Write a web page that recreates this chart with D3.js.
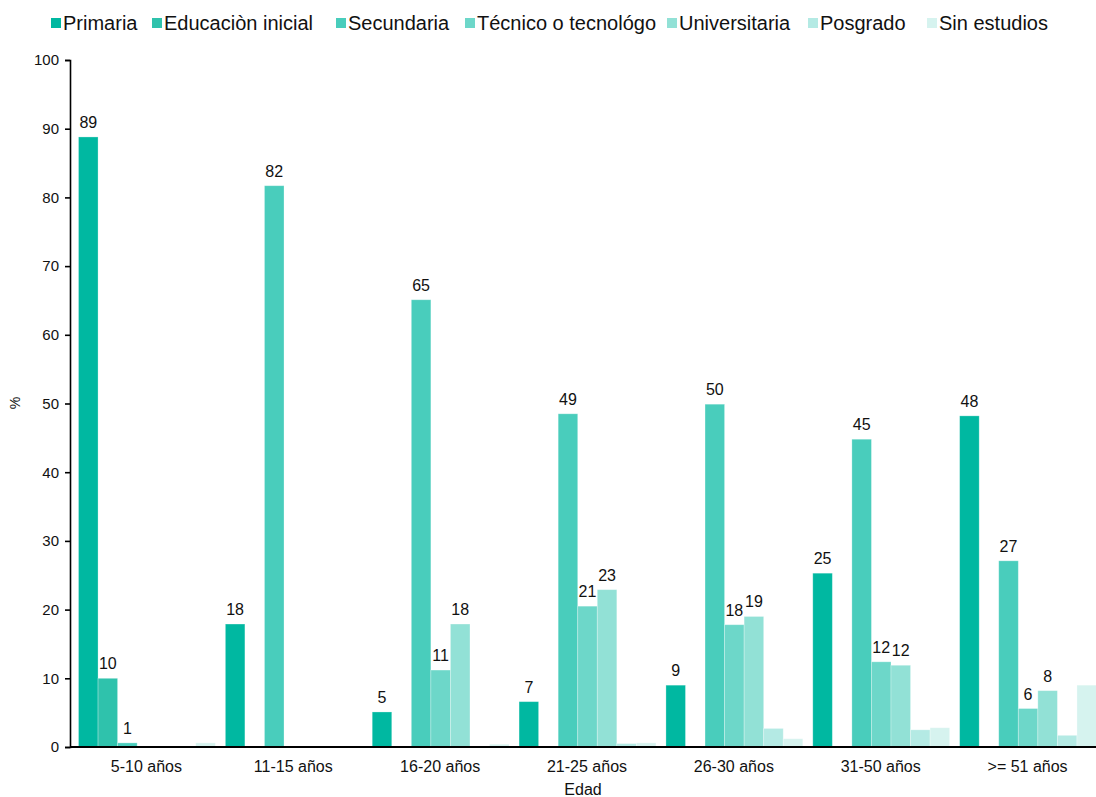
<!DOCTYPE html>
<html lang="es">
<head>
<meta charset="utf-8">
<script src="https://cdn.jsdelivr.net/npm/d3@7"></script>
<style>
  html, body { margin: 0; padding: 0; background: #fff; }
  svg { display: block; font-family: "Liberation Sans", Arial, sans-serif; }
</style>
</head>
<body>
<svg id="chart" width="1096" height="797"></svg>
<script>
// Age groups on the x axis
const categories = ["5-10 años", "11-15 años", "16-20 años", "21-25 años", "26-30 años", "31-50 años", ">= 51 años"];

// Education levels (one bar each per age group)
const seriesNames = ["Primaria", "Educaciòn inicial", "Secundaria", "Técnico o tecnológo", "Universitaria", "Posgrado", "Sin estudios"];

// Percentages per level, one value per age group
const primaria      = [88.8, 17.9, 5.1, 6.6, 9.0, 25.3, 48.2];
const educInicial   = [10.0, 0, 0, 0, 0, 0, 0];
const secundaria    = [0.6, 81.7, 65.1, 48.5, 49.9, 44.8, 27.1];
const tecnico       = [0, 0, 11.2, 20.5, 17.8, 12.4, 5.6];
const universitaria = [0, 0, 17.9, 22.9, 19.0, 11.9, 8.2];
const posgrado      = [0, 0, 0, 0.5, 2.7, 2.5, 1.7];
const sinEstudios   = [0.6, 0, 0.4, 0.6, 1.2, 2.8, 9.0];

const yTicks = [0, 10, 20, 30, 40, 50, 60, 70, 80, 90, 100];

const seriesValues = [primaria, educInicial, secundaria, tecnico, universitaria, posgrado, sinEstudios];
const colors = ["#00b8a1", "#2fc2ac", "#49cdbc", "#6dd7c9", "#92e1d6", "#b4eae4", "#d6f3ef"];
// Value labels are shown for the first five levels only
const labelled = [true, true, true, true, true, false, false];

const svg = d3.select("#chart");
const margin = { left: 70, top: 60 };
const plotBottom = 747;

const x0 = d3.scaleBand().domain(categories).range([73, 1101]).padding(0);
const x1 = d3.scaleBand().domain(seriesNames).range([5.5, x0.bandwidth() - 4.5]).padding(0);
const y = d3.scaleLinear().domain([0, 100]).range([plotBottom, margin.top]);

// Bars
const rows = [];
categories.forEach((c, ci) => {
  seriesNames.forEach((s, si) => {
    rows.push({ cat: c, series: s, si, value: seriesValues[si][ci] });
  });
});

svg.append("g").selectAll("rect")
  .data(rows.filter(d => d.value > 0))
  .join("rect")
  .attr("x", d => x0(d.cat) + x1(d.series))
  .attr("y", d => y(d.value))
  .attr("width", x1.bandwidth())
  .attr("height", d => y(0) - y(d.value))
  .attr("fill", d => colors[d.si])
  .attr("stroke", "#ffffff")
  .attr("stroke-opacity", 0.35)
  .attr("stroke-width", 0.8);

// Value labels
svg.append("g").selectAll("text")
  .data(rows.filter(d => labelled[d.si] && d.value >= 0.5))
  .join("text")
  .attr("x", d => x0(d.cat) + x1(d.series) + x1.bandwidth() / 2)
  .attr("y", d => y(d.value) - 9)
  .attr("text-anchor", "middle")
  .attr("font-size", 16)
  .attr("fill", "#111")
  .text(d => d3.format(".0f")(d.value));

// Y axis
const yAxis = svg.append("g")
  .attr("transform", `translate(${margin.left},0)`)
  .call(d3.axisLeft(y).tickValues(yTicks).tickSize(5).tickPadding(6).tickFormat(d3.format("d")));
yAxis.select(".domain").attr("stroke", "#000").attr("stroke-width", 1.6);
yAxis.selectAll(".tick line").attr("stroke", "#000").attr("stroke-width", 1.6);
yAxis.selectAll(".tick text")
  .attr("font-size", 15)
  .attr("font-family", "'Liberation Sans', Arial, sans-serif")
  .attr("fill", "#111");

// X axis
const xAxis = svg.append("g")
  .attr("transform", `translate(0,${plotBottom})`)
  .call(d3.axisBottom(x0).tickSize(0).tickPadding(14));
xAxis.select(".domain").attr("d", `M${margin.left},0H1096`).attr("stroke", "#000").attr("stroke-width", 1.8);
xAxis.selectAll(".tick text")
  .attr("font-size", 16)
  .attr("font-family", "'Liberation Sans', Arial, sans-serif")
  .attr("fill", "#111");

// Axis titles
svg.append("text")
  .attr("x", 583).attr("y", 795)
  .attr("text-anchor", "middle")
  .attr("font-size", 16)
  .attr("fill", "#111")
  .text("Edad");

svg.append("text")
  .attr("transform", "translate(20,403) rotate(-90)")
  .attr("text-anchor", "middle")
  .attr("font-size", 14)
  .attr("fill", "#111")
  .text("%");

// Legend
const legendX = [51, 152, 336, 465, 667, 808, 927];
const legend = svg.append("g").selectAll("g")
  .data(seriesNames)
  .join("g")
  .attr("transform", (d, i) => `translate(${legendX[i]},0)`);
legend.append("rect")
  .attr("x", 0).attr("y", 18)
  .attr("width", 10).attr("height", 10)
  .attr("fill", (d, i) => colors[i]);
legend.append("text")
  .attr("x", 12).attr("y", 30)
  .attr("font-size", 20)
  .attr("fill", "#111")
  .text(d => d);
</script>
</body>
</html>
